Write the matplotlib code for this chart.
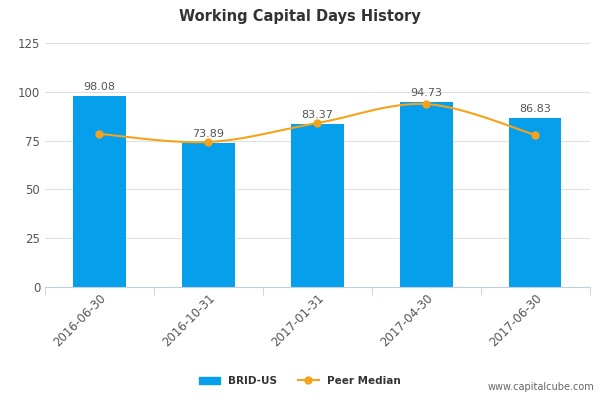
import matplotlib
matplotlib.use("Agg")
import matplotlib.pyplot as plt
import numpy as np

categories = ["2016-06-30", "2016-10-31", "2017-01-31", "2017-04-30", "2017-06-30"]
brid = [98.08, 73.89, 83.37, 94.73, 86.83]
peer = [78.4, 74.3, 84.0, 93.7, 77.9]

fig = plt.figure(figsize=(6, 4), dpi=100)
ax = fig.add_axes([0.075, 0.2825, 0.908, 0.61])
x = np.arange(len(categories))
ax.bar(x, brid, width=0.48, color="#069FEC", zorder=2)
for xi, v in zip(x, brid):
    ax.text(xi, v + 2, f"{v:.2f}", ha="center", va="bottom", fontsize=8, color="#555555")

# Catmull-Rom smoothing through the peer points
px = np.array(x, float); py = np.array(peer, float)
P = np.vstack([px, py]).T
P = np.vstack([P[0], P, P[-1]])
xs, ys = [], []
for i in range(1, len(P) - 2):
    p0, p1, p2, p3 = P[i-1], P[i], P[i+1], P[i+2]
    for t in np.linspace(0, 1, 30):
        c = 0.5 * ((2*p1) + (-p0+p2)*t + (2*p0-5*p1+4*p2-p3)*t**2 + (-p0+3*p1-3*p2+p3)*t**3)
        xs.append(c[0]); ys.append(c[1])
ax.plot(xs, ys, color="#F5A31A", lw=1.5, zorder=3)
ax.plot(px, py, "o", color="#F5A31A", ms=5, zorder=4)

ax.set_xlim(-0.5, 4.5)
ax.set_ylim(0, 125)
ax.set_yticks([0, 25, 50, 75, 100, 125])
ax.set_xticks(x)
ax.set_xticklabels(categories, rotation=45, ha="right", rotation_mode="anchor")
ax.set_xticks(np.arange(-0.5, 5, 1), minor=True)
ax.tick_params(axis="x", which="major", length=0, labelsize=8.5, colors="#555555")
ax.tick_params(axis="x", which="minor", length=6, color="#C0D0E0")
ax.tick_params(axis="y", length=0, labelsize=8.5, colors="#555555")
ax.grid(axis="y", color="#E0E0E0", lw=0.8, zorder=0)
for s in ["top", "right", "left"]:
    ax.spines[s].set_visible(False)
ax.spines["bottom"].set_color("#C0D0E0")

fig.text(0.5, 0.96, "Working Capital Days History", ha="center", va="center",
         fontsize=10.5, fontweight="bold", color="#333333")

from matplotlib.patches import Patch
from matplotlib.lines import Line2D
handles = [Patch(color="#069FEC", label="BRID-US"),
           Line2D([0], [0], color="#F5A31A", marker="o", ms=5, lw=1.5, label="Peer Median")]
leg = fig.legend(handles=handles, loc="center", bbox_to_anchor=(0.5, 0.048), ncol=2,
                 frameon=False, prop={"size": 7.5, "weight": "bold"}, handlelength=2, columnspacing=2)
for t in leg.get_texts():
    t.set_color("#333333")
fig.text(0.99, 0.02, "www.capitalcube.com", ha="right", va="bottom", fontsize=7, color="#666666")
fig.savefig("out.png", dpi=100)
